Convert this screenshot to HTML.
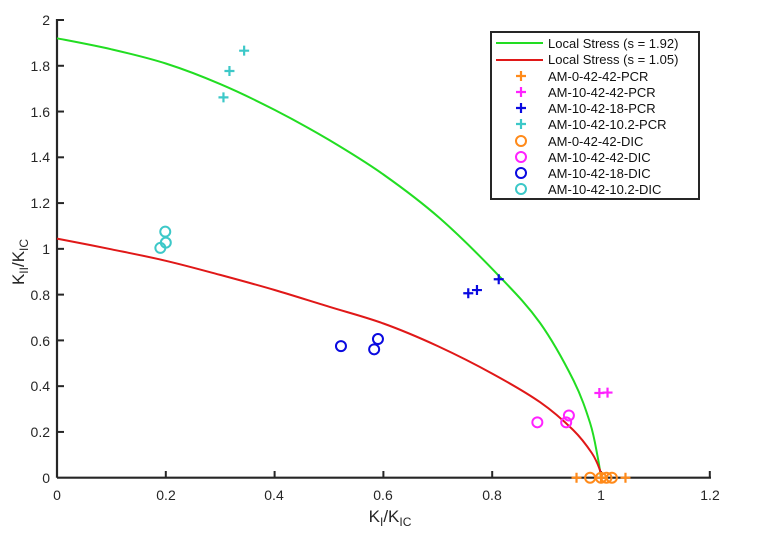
<!DOCTYPE html>
<html><head><meta charset="utf-8"><style>
html,body{margin:0;padding:0;background:#fff;}
svg{display:block;font-family:"Liberation Sans",sans-serif;}
</style></head><body>
<svg id="s" width="784" height="538" xmlns="http://www.w3.org/2000/svg">
<g fill="#262626" font-size="14" text-anchor="middle">
<text x="57" y="500">0</text><text x="166" y="500">0.2</text><text x="274" y="500">0.4</text><text x="383" y="500">0.6</text><text x="492" y="500">0.8</text><text x="601" y="500">1</text><text x="710" y="500">1.2</text>
</g>
<g fill="#262626" font-size="14" text-anchor="end">
<text x="50" y="483">0</text><text x="50" y="437">0.2</text><text x="50" y="391">0.4</text><text x="50" y="346">0.6</text><text x="50" y="300">0.8</text><text x="50" y="254">1</text><text x="50" y="208">1.2</text><text x="50" y="162">1.4</text><text x="50" y="117">1.6</text><text x="50" y="71">1.8</text><text x="50" y="25">2</text>
</g>
<text x="390" y="522" font-size="17" fill="#262626" text-anchor="middle">K<tspan font-size="12" dy="4">I</tspan><tspan dy="-4">/K</tspan><tspan font-size="12" dy="4">IC</tspan></text>
<text transform="translate(24,262) rotate(-90)" font-size="17" fill="#262626" text-anchor="middle">K<tspan font-size="12" dy="4">II</tspan><tspan dy="-4">/K</tspan><tspan font-size="12" dy="4">IC</tspan></text>
<g id="plot"></g>
<rect x="491" y="32" width="208" height="167" fill="#fff" stroke="#262626" stroke-width="2"/>
<g font-size="13" fill="#111">
<text x="548" y="48">Local Stress (s = 1.92)</text>
<text x="548" y="64">Local Stress (s = 1.05)</text>
<text x="548" y="81">AM-0-42-42-PCR</text>
<text x="548" y="97">AM-10-42-42-PCR</text>
<text x="548" y="113">AM-10-42-18-PCR</text>
<text x="548" y="129">AM-10-42-10.2-PCR</text>
<text x="548" y="146">AM-0-42-42-DIC</text>
<text x="548" y="162">AM-10-42-42-DIC</text>
<text x="548" y="178">AM-10-42-18-DIC</text>
<text x="548" y="194">AM-10-42-10.2-DIC</text>
</g>
<line x1="496" y1="43" x2="543" y2="43" stroke="#22dd22" stroke-width="2"/>
<line x1="496" y1="60" x2="543" y2="60" stroke="#e01818" stroke-width="2"/>
<g id="leg"></g>
</svg>
<script>
var X=function(v){return 57+v*544}, Y=function(v){return 477.7-v*228.85};
var p=document.getElementById('plot'), L=document.getElementById('leg'), h='';
h+='<line x1="57" y1="477.7" x2="711" y2="477.7" stroke="#262626" stroke-width="2.2"/>';
h+='<line x1="57" y1="477.7" x2="57" y2="19" stroke="#262626" stroke-width="2.2"/>';
for(var i=1;i<=6;i++){var x=X(i*0.2);h+='<line x1="'+x+'" y1="477.7" x2="'+x+'" y2="471" stroke="#262626" stroke-width="2"/>';}
for(var i=1;i<=10;i++){var y=Y(i*0.2);h+='<line x1="57" y1="'+y+'" x2="64" y2="'+y+'" stroke="#262626" stroke-width="2"/>';}
function curve(pts,c){
  var P=pts.map(function(q){return [X(q[0]),Y(q[1])]});
  var d='M'+P[0][0].toFixed(1)+' '+P[0][1].toFixed(1);
  for(var i=0;i<P.length-1;i++){
    var p0=P[Math.max(i-1,0)],p1=P[i],p2=P[i+1],p3=P[Math.min(i+2,P.length-1)];
    var c1=[p1[0]+(p2[0]-p0[0])/6,p1[1]+(p2[1]-p0[1])/6];
    var c2=[p2[0]-(p3[0]-p1[0])/6,p2[1]-(p3[1]-p1[1])/6];
    d+='C'+c1[0].toFixed(1)+' '+c1[1].toFixed(1)+' '+c2[0].toFixed(1)+' '+c2[1].toFixed(1)+' '+p2[0].toFixed(1)+' '+p2[1].toFixed(1);
  }
  return '<path d="'+d+'" fill="none" stroke="'+c+'" stroke-width="2"/>';}
h+=curve([[0,1.92],[0.1,1.872],[0.2,1.81],[0.3,1.72],[0.4,1.607],[0.5,1.476],[0.6,1.325],[0.704,1.133],[0.814,0.878],[0.888,0.676],[0.949,0.427],[0.98,0.239],[0.994,0.09],[1,0]],'#22dd22');
h+=curve([[0,1.045],[0.1,0.998],[0.2,0.948],[0.3,0.886],[0.4,0.82],[0.5,0.747],[0.6,0.674],[0.7,0.575],[0.8,0.455],[0.888,0.33],[0.949,0.208],[0.983,0.108],[0.998,0.034],[1,0]],'#e01818');
function plus(x,y,c){return '<path d="M'+(x-5)+' '+y+'H'+(x+5)+'M'+x+' '+(y-5)+'V'+(y+5)+'" stroke="'+c+'" stroke-width="2.2"/>';}
function circ(x,y,c){return '<circle cx="'+x+'" cy="'+y+'" r="5" fill="none" stroke="'+c+'" stroke-width="2"/>';}
var O='#ff8a1a',M='#ff22ff',B='#0a0ae0',C='#3cc8c8';
[[0.306,1.662],[0.317,1.777],[0.344,1.866]].forEach(function(q){h+=plus(X(q[0]),Y(q[1]),C)});
[[0.19,1.004],[0.2,1.027],[0.199,1.075]].forEach(function(q){h+=circ(X(q[0]),Y(q[1]),C)});
[[0.756,0.806],[0.772,0.82],[0.812,0.867]].forEach(function(q){h+=plus(X(q[0]),Y(q[1]),B)});
[[0.522,0.575],[0.583,0.561],[0.59,0.606]].forEach(function(q){h+=circ(X(q[0]),Y(q[1]),B)});
[[0.997,0.37],[1.012,0.372]].forEach(function(q){h+=plus(X(q[0]),Y(q[1]),M)});
[[0.883,0.242],[0.936,0.242],[0.941,0.272]].forEach(function(q){h+=circ(X(q[0]),Y(q[1]),M)});
[[0.955,0],[1.0,0],[1.045,0]].forEach(function(q){h+=plus(X(q[0]),Y(q[1]),O)});
[[0.98,0],[1.0,0],[1.01,0],[1.02,0]].forEach(function(q){h+=circ(X(q[0]),Y(q[1]),O)});
p.innerHTML=h;
var l='';
l+=plus(521,76,O)+plus(521,92,M)+plus(521,108,B)+plus(521,124,C);
l+=circ(521,141,O)+circ(521,157,M)+circ(521,173,B)+circ(521,189,C);
L.innerHTML=l;
</script>
</body></html>
